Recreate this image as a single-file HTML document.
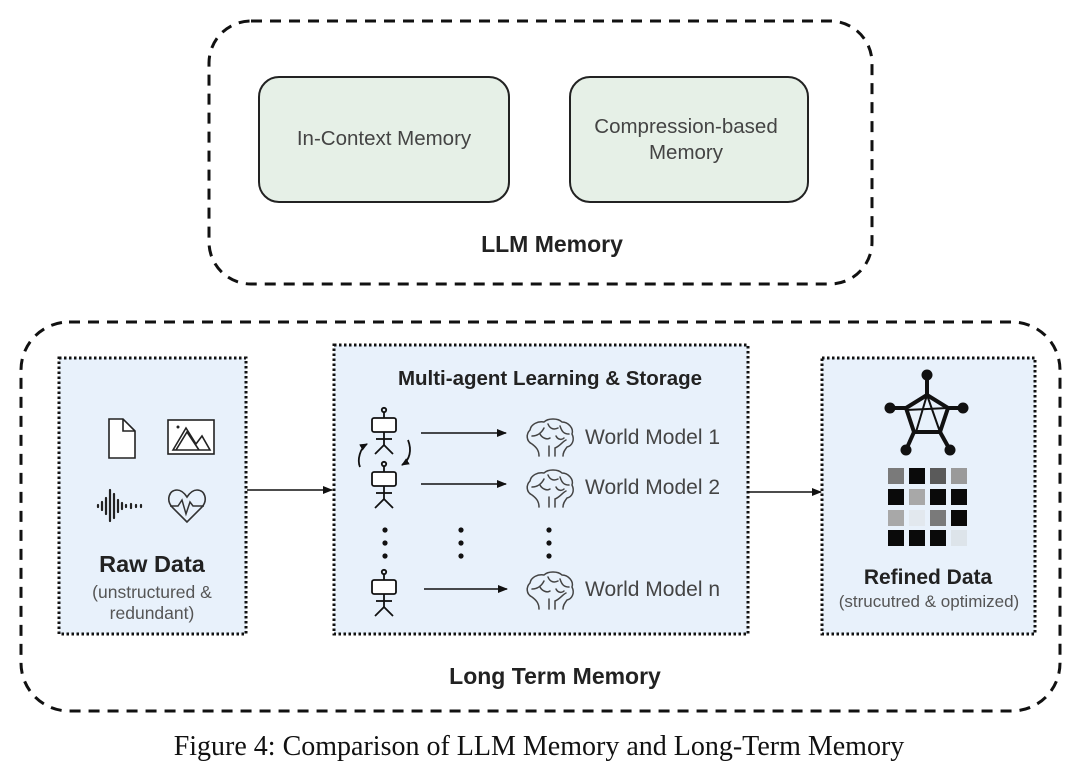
<!DOCTYPE html>
<html><head><meta charset="utf-8"><style>
html,body{margin:0;padding:0;background:#fff;}
svg{display:block;}
text{font-family:"Liberation Sans",Arial,sans-serif;}
</style></head><body>
<svg width="1080" height="771" viewBox="0 0 1080 771" xmlns="http://www.w3.org/2000/svg">
<defs>
<marker id="ah" markerWidth="10" markerHeight="8" refX="9" refY="4" orient="auto" markerUnits="userSpaceOnUse">
<path d="M0,0 L10,4 L0,8 Z" fill="#111"/></marker>
<marker id="ah2" markerWidth="8" markerHeight="7" refX="7" refY="3.5" orient="auto" markerUnits="userSpaceOnUse">
<path d="M0,0 L8,3.5 L0,7 Z" fill="#111"/></marker>
<g id="agent" fill="none" stroke="#111" stroke-width="1.8">
<circle cx="0" cy="0" r="2.2"/>
<line x1="0" y1="2" x2="0" y2="8"/>
<rect x="-12" y="8" width="24" height="14" rx="2" fill="#fff"/>
<line x1="0" y1="22" x2="0" y2="35"/>
<line x1="-8" y1="29" x2="8" y2="29"/>
<line x1="0" y1="35" x2="-9" y2="44"/>
<line x1="0" y1="35" x2="9" y2="44"/>
</g>
<g id="brain" fill="none" stroke="#444" stroke-width="1.5" stroke-linecap="round">
<path d="M-11,24 C-11,18 -14,15 -18,12 C-24,9 -24,2 -20,-2 C-19,-8 -12,-11 -6,-10 C-2,-14 8,-14 12,-10 C18,-10 24,-4 22,2 C25,8 22,14 17,15 C15,18 13,20 13,24"/>
<path d="M5,24 L5,16 C10,14 12,10 16,8"/>
<path d="M-1,24 L-1,14"/>
<path d="M-18,4 C-12,4 -8,0 -6,-4 M-10,2 C-8,6 -3,8 0,6 M-2,-8 C0,-3 4,-2 8,-4 M10,-6 C12,0 14,2 19,2 M6,4 C8,8 12,8 14,6"/>
</g>
</defs>

<rect x="209" y="21" width="663" height="263" rx="42" fill="none" stroke="#111" stroke-width="3" stroke-dasharray="11,8"/>
<rect x="259" y="77" width="250" height="125" rx="20" fill="#e6f0e7" stroke="#222" stroke-width="2"/>
<rect x="570" y="77" width="238" height="125" rx="20" fill="#e6f0e7" stroke="#222" stroke-width="2"/>
<text x="384" y="145" font-size="20.5" fill="#444" text-anchor="middle">In-Context Memory</text>
<text x="686" y="133" font-size="20.5" fill="#444" text-anchor="middle">Compression-based</text>
<text x="686" y="159" font-size="20.5" fill="#444" text-anchor="middle">Memory</text>
<text x="552" y="252" font-size="23" font-weight="bold" fill="#222" text-anchor="middle">LLM Memory</text>

<rect x="21" y="322" width="1039" height="389" rx="48" fill="none" stroke="#111" stroke-width="3" stroke-dasharray="11,8"/>
<text x="555" y="684" font-size="23" font-weight="bold" fill="#222" text-anchor="middle">Long Term Memory</text>

<rect x="59" y="358" width="187" height="276" fill="#e8f1fb" stroke="#111" stroke-width="3" stroke-dasharray="2.5,2.5"/>
<g fill="#fff" stroke="#222" stroke-width="1.6">
<path d="M109,419 L123,419 L135,431 L135,458 L109,458 Z"/>
<path d="M123,419 L123,431 L135,431" fill="none"/>
<rect x="168" y="420" width="46" height="34"/>
<path d="M173,450 L186,428 L196,444 L202,436 L210,450 Z" fill="none"/>
<path d="M176,450 L187,432 L199,450" fill="none"/>
</g>
<circle cx="178" cy="427" r="1.5" fill="#222"/>
<g stroke="#222" stroke-width="2.2" stroke-linecap="round">
<line x1="98" y1="505" x2="98" y2="507"/><line x1="102" y1="502" x2="102" y2="510"/>
<line x1="106" y1="498" x2="106" y2="514"/><line x1="110" y1="490" x2="110" y2="521"/>
<line x1="114" y1="494" x2="114" y2="518"/><line x1="118" y1="500" x2="118" y2="512"/>
<line x1="122" y1="503" x2="122" y2="509"/><line x1="126" y1="505" x2="126" y2="507"/>
<line x1="131" y1="504" x2="131" y2="508"/><line x1="136" y1="505" x2="136" y2="507"/>
<line x1="141" y1="505" x2="141" y2="507"/>
</g>
<path d="M187,522 L172,507 C166,500 169,490 177,490 C182,490 185,494 187,497 C189,494 192,490 197,490 C205,490 208,500 202,507 Z" fill="none" stroke="#333" stroke-width="1.6"/>
<path d="M170,506 L178,506 L182,500 L186,514 L190,502 L193,506 L204,506" fill="none" stroke="#333" stroke-width="1.5"/>
<text x="152" y="572" font-size="23.5" font-weight="bold" fill="#222" text-anchor="middle">Raw Data</text>
<text x="152" y="598" font-size="17.5" fill="#555" text-anchor="middle">(unstructured &amp;</text>
<text x="152" y="619" font-size="17.5" fill="#555" text-anchor="middle">redundant)</text>

<rect x="334" y="345" width="414" height="289" fill="#e8f1fb" stroke="#111" stroke-width="3" stroke-dasharray="2.5,2.5"/>
<text x="550" y="385" font-size="20.5" font-weight="bold" fill="#222" text-anchor="middle">Multi-agent Learning &amp; Storage</text>
<use href="#agent" x="384" y="410"/>
<use href="#agent" x="384" y="464"/>
<use href="#agent" x="384" y="572"/>
<path d="M360,467 C357,460 360,448 367,444" fill="none" stroke="#111" stroke-width="1.8" marker-end="url(#ah2)"/>
<path d="M408,440 C412,450 410,460 402,465" fill="none" stroke="#111" stroke-width="1.8" marker-end="url(#ah2)"/>
<g stroke="#111" stroke-width="1.5">
<line x1="421" y1="433" x2="506" y2="433" marker-end="url(#ah)"/>
<line x1="421" y1="484" x2="506" y2="484" marker-end="url(#ah)"/>
<line x1="424" y1="589" x2="507" y2="589" marker-end="url(#ah)"/>
</g>
<use href="#brain" x="550" y="432"/>
<use href="#brain" x="550" y="483"/>
<use href="#brain" x="550" y="585"/>
<text x="585" y="444" font-size="21" fill="#444">World Model 1</text>
<text x="585" y="494" font-size="21" fill="#444">World Model 2</text>
<text x="585" y="596" font-size="21" fill="#444">World Model n</text>
<g fill="#111">
<circle cx="385" cy="530" r="2.6"/><circle cx="385" cy="543" r="2.6"/><circle cx="385" cy="556" r="2.6"/>
<circle cx="461" cy="530" r="2.6"/><circle cx="461" cy="543" r="2.6"/><circle cx="461" cy="556" r="2.6"/>
<circle cx="549" cy="530" r="2.6"/><circle cx="549" cy="543" r="2.6"/><circle cx="549" cy="556" r="2.6"/>
</g>

<line x1="247" y1="490" x2="332" y2="490" stroke="#111" stroke-width="1.5" marker-end="url(#ah)"/>
<line x1="749" y1="492" x2="821" y2="492" stroke="#111" stroke-width="1.5" marker-end="url(#ah)"/>

<rect x="822" y="358" width="213" height="276" fill="#e8f1fb" stroke="#111" stroke-width="3" stroke-dasharray="2.5,2.5"/>
<g stroke="#111" stroke-width="4" stroke-linejoin="round" fill="none">
<path d="M927,395 L948,408 L940,432 L914,432 L906,408 Z"/>
<path d="M927,395 L916,432 M948,408 L906,410 M940,432 L927,395" stroke-width="2"/>
<line x1="927" y1="375" x2="927" y2="395"/>
<line x1="963" y1="408" x2="948" y2="408"/>
<line x1="950" y1="450" x2="940" y2="432"/>
<line x1="906" y1="450" x2="914" y2="432"/>
<line x1="890" y1="408" x2="906" y2="408"/>
</g>
<g fill="#111">
<circle cx="927" cy="375" r="5.5"/><circle cx="963" cy="408" r="5.5"/><circle cx="950" cy="450" r="5.5"/>
<circle cx="906" cy="450" r="5.5"/><circle cx="890" cy="408" r="5.5"/>
</g>
<g>
<rect x="888" y="468" width="16" height="16" fill="#7a7a7a"/><rect x="909" y="468" width="16" height="16" fill="#0a0a0a"/><rect x="930" y="468" width="16" height="16" fill="#5a5a5a"/><rect x="951" y="468" width="16" height="16" fill="#9a9a9a"/>
<rect x="888" y="489" width="16" height="16" fill="#0a0a0a"/><rect x="909" y="489" width="16" height="16" fill="#a8a8a8"/><rect x="930" y="489" width="16" height="16" fill="#0a0a0a"/><rect x="951" y="489" width="16" height="16" fill="#0a0a0a"/>
<rect x="888" y="510" width="16" height="16" fill="#a8a8a8"/><rect x="909" y="510" width="16" height="16" fill="#e2e8ee"/><rect x="930" y="510" width="16" height="16" fill="#7a7a7a"/><rect x="951" y="510" width="16" height="16" fill="#0a0a0a"/>
<rect x="888" y="530" width="16" height="16" fill="#0a0a0a"/><rect x="909" y="530" width="16" height="16" fill="#0a0a0a"/><rect x="930" y="530" width="16" height="16" fill="#0a0a0a"/><rect x="951" y="530" width="16" height="16" fill="#dde4ea"/>
</g>
<text x="928" y="584" font-size="21" font-weight="bold" fill="#222" text-anchor="middle">Refined Data</text>
<text x="929" y="607" font-size="17" fill="#555" text-anchor="middle">(strucutred &amp; optimized)</text>

<text x="539" y="755" font-size="28" fill="#111" text-anchor="middle" style="font-family:'Liberation Serif',serif">Figure 4: Comparison of LLM Memory and Long-Term Memory</text>
</svg>
</body></html>
